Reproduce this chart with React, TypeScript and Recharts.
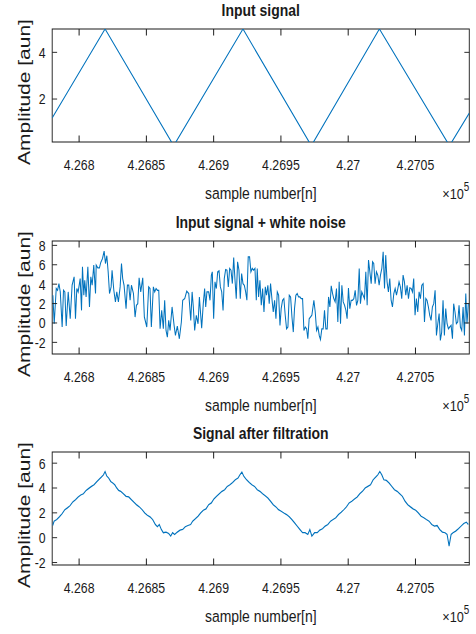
import React from 'react';
import { LineChart, Line, XAxis, YAxis, ReferenceArea } from 'recharts';

// ---------- data ----------
const xTicks = [426800, 426850, 426900, 426950, 427000, 427050];
const xTickLabels = ['4.268', '4.2685', '4.269', '4.2695', '4.27', '4.2705'];
const xDomain: [number, number] = [426780, 427090];

const titles = ['Input signal', 'Input signal + white noise', 'Signal after filtration'];
const yLabelText = 'Amplitude [aun]';
const xLabelText = 'sample number[n]';

const yDomains: [number, number][] = [[0.16, 5], [-3.2, 8.45], [-2.2, 6.9]];
const yTicksList = [[2, 4], [-2, 0, 2, 4, 6, 8], [-2, 0, 2, 4, 6]];

// input triangle signal vertices [sample, amplitude]
const inputSignal: [number, number][] = [
  [426780, 1.19], [426819.3, 5], [426870.3, 0], [426921.8, 5], [426972.6, 0],
  [427023.2, 5], [427075.3, 0], [427090, 1.4],
];

// noisy signal [sample, amplitude]
const noisySeg1: [number, number][] = [
  [426780.5, 2.86], [426781.5, -0.08], [426783, 3.55], [426784, 3.37], [426785, 4.06], [426786, 3.2],
  [426787.4, -0.42], [426788.4, 3.37], [426789.4, 3.2], [426790.4, -0.32], [426791.9, 3.2], [426793.4, 0.44],
  [426794.8, 3.89], [426796.3, 4.75], [426797.3, 0.44], [426798.3, 3.55], [426799.3, 3.2], [426800.8, 4.58],
  [426801.8, 1.3], [426802.5, 5.79], [426803.5, 2.86], [426804.2, 4.41], [426805.2, 2.68], [426806.5, 5.79],
  [426807.7, 1.65], [426808.7, 4.75], [426809.7, 3.89], [426810.9, 5.96], [426812.2, 3.03], [426812.7, 5.96],
  [426813.9, 5.68], [426815.1, 5.68], [426816.1, 6.24], [426817.4, 6.65], [426818.6, 7.41], [426819.6, 6.13],
  [426820.6, 6.93], [426821.6, 5.27], [426822.6, 3.03], [426823.8, 3.72], [426824.5, 5.44], [426825.8, 3.37],
  [426827, 2.17], [426828, 3.2], [426829.2, 2.17], [426830.5, 3.72], [426831.5, 6.13], [426832.4, 4.58],
  [426833.4, 3.89], [426834.9, 1.48], [426835.9, 3.89], [426836.9, 3.89], [426837.9, 2.34], [426838.9, 3.89],
  [426840.4, 3.03], [426841.6, 0.61], [426842.6, 1.82], [426843.6, 1.99], [426844.6, 4.65], [426845.8, 3.2],
  [426847.3, 4.65], [426848.5, 0.61], [426850.3, -0.42], [426851.7, 3.72], [426852.7, 3.55], [426853.7, -0.42],
  [426855.2, 3.72], [426856.2, 3.2], [426857.2, 3.55], [426858.2, 3.37], [426859.2, 3.37], [426860.2, -0.6],
  [426861.4, 1.3], [426862.6, -0.6], [426863.6, 2.34], [426864.6, -0.77], [426865.6, -1.46], [426866.6, 0.27],
  [426867.6, -0.77], [426869.1, 1.65], [426870.6, -0.25], [426871.6, -1.29], [426873.0, -0.32], [426874.5, -1.63],
  [426876, 0.1], [426877, 2.34], [426878.5, 2.51], [426880, 3.27], [426881.5, 3.03], [426883, 0.27], [426884, 3.2],
];
const noisySeg2: [number, number][] = [
  [426884.9, 1.65], [426885.9, -0.77], [426887.1, 0.79], [426888.4, -0.08], [426889.4, 2.68], [426890.3, 0.96],
  [426891.1, -0.53], [426892.3, 1.99], [426893.3, 3.55], [426894.1, 1.65], [426895.0, 3.2], [426896.3, 3.2],
  [426897.3, 2.34], [426898.3, 4.93], [426899.0, 5.27], [426900.0, 0.44], [426901.0, 4.24], [426902.0, 3.55],
  [426903.0, 5.27], [426904.0, 5.37], [426905.0, 3.72], [426906.0, 3.2], [426907.0, 1.3], [426907.9, 4.58],
  [426908.9, 5.51], [426909.9, 5.44], [426910.9, 3.72], [426911.9, 5.62], [426912.9, 5.44], [426913.9, 4.06],
  [426914.9, 6.75], [426915.8, 4.58], [426916.8, 2.51], [426917.8, 6.3], [426918.8, 5.44], [426919.8, 2.51],
  [426920.8, 5.1], [426921.8, 4.06], [426922.8, 3.89], [426923.8, 3.2], [426924.7, 2.34], [426925.7, 6.82],
  [426926.7, 6.82], [426927.7, 5.27], [426928.7, 5.62], [426929.7, 5.44], [426930.7, 5.62], [426931.7, 2.34],
  [426932.4, 5.62], [426933.4, 2.68], [426934.4, 4.41], [426935.4, 1.82], [426936.4, 3.55], [426937.4, 1.13],
  [426938.4, 3.72], [426939.3, 2.86], [426940.3, 3.89], [426941.3, 1.99], [426942.3, 4.06], [426943.3, 2.51],
  [426944.3, 1.13], [426945.3, 2.34], [426946.3, 0.44], [426947.3, 3.2], [426948.3, 2.86], [426949.3, -0.25],
  [426950.2, 1.48], [426951.2, 2.34], [426952.2, 2.51], [426953.2, 0.79], [426954.2, -0.6], [426955.2, -0.42],
  [426956.2, 2.86], [426957.2, 2.68], [426958.2, 0.61], [426959.2, -0.94], [426960.1, 1.48], [426961.1, 2.86],
  [426962.1, 3.03], [426963.1, 2.68], [426964.1, 2.68], [426965.1, 2.51], [426966.1, 2.51], [426967.1, -0.77],
  [426968.1, -0.42], [426969.1, -0.6], [426970.0, -1.63], [426971.0, 0.44], [426972.0, 0.61], [426973.0, 0.79],
  [426974.5, 2.34], [426975.5, 1.13], [426976.5, -0.77], [426977.5, -0.42], [426978.5, -1.29], [426979.4, -1.7],
  [426980.4, -0.6], [426981.4, -0.6], [426982.4, 1.3],
];
const noisySeg3: [number, number][] = [
  [426983.4, -0.6], [426984.4, -0.6], [426985.4, 2.68], [426986.4, 1.65], [426987.4, 3.82], [426988.4, 3.03],
  [426989.3, 2.51], [426990.3, 2.17], [426991.3, 3.55], [426992.3, 0.1], [426993.3, 4.24], [426994.3, -0.08],
  [426995.3, 3.89], [426996.3, 2.17], [426997.3, 1.82], [426998.3, 1.3], [426999.2, 0.44], [427000.2, 3.61],
  [427001.2, 1.48], [427002.2, 2.34], [427003.2, 2.34], [427004.2, 2.51], [427005.2, 3.37], [427006.2, 1.82],
  [427007.2, 2.34], [427008.2, 5.62], [427009.1, 1.99], [427010.1, 3.2], [427011.1, 2.86], [427012.1, 2.51],
  [427013.1, 5.27], [427014.1, 1.82], [427015.1, 6.48], [427016.1, 5.27], [427017.1, 4.06], [427018.1, 6.3],
  [427019.0, 6.13], [427020.0, 4.06], [427021.0, 5.27], [427022.0, 4.93], [427023.0, 3.89], [427024.0, 4.93],
  [427025.0, 5.62], [427026.0, 7.34], [427027.0, 3.55], [427027.9, 6.99], [427028.9, 4.24], [427029.9, 3.2],
  [427030.9, 4.58], [427031.9, 2.34], [427032.9, 1.65], [427033.9, 3.03], [427034.9, 3.55], [427035.9, 2.86],
  [427036.9, 3.55], [427037.8, 4.24], [427038.8, 3.72], [427039.8, 2.51], [427040.8, 4.93], [427041.8, 4.24],
  [427042.8, 2.86], [427043.8, 3.89], [427044.8, 2.51], [427045.8, 3.61], [427046.8, 3.55], [427047.8, 3.2],
  [427048.7, 4.58], [427049.7, 0.79], [427050.7, 2.51], [427051.7, 1.13], [427052.7, 3.2], [427053.7, 2.51],
  [427054.7, 3.89], [427055.7, 4.06], [427056.7, 0.1], [427057.7, 2.51], [427058.6, 2.34], [427059.6, 1.65],
  [427060.6, 0.79], [427061.6, 0.27], [427062.6, 1.65], [427063.6, 1.99], [427064.6, 3.37], [427065.6, -1.29],
  [427066.6, -0.08], [427067.6, 0.96], [427068.5, -1.8], [427069.5, -0.94], [427070.5, 2.34], [427071.5, -1.29],
  [427072.5, 1.48], [427073.5, -0.08], [427074.5, -0.6], [427075.5, -0.42], [427076.5, -0.25], [427077.5, -1.63],
  [427078.4, 1.99], [427079.4, 1.13], [427080.4, -0.08], [427081.4, 0.1], [427082.4, 1.82], [427083.4, -0.42],
  [427084.4, -0.77], [427085.4, 1.65], [427086.4, -1.29], [427087.4, 3.03], [427088.3, -0.08], [427089.3, 1.99],
];

// filtered signal [sample, amplitude]
const filteredSignal: [number, number][] = [
  [426780.4, 0.98], [426781.4, 1.33], [426783.4, 1.46], [426785.4, 1.68], [426787.4, 1.94], [426789.4, 2.26],
  [426791.3, 2.4], [426793.3, 2.58], [426795.3, 2.88], [426797.3, 3.06], [426799.3, 3.28], [426801.2, 3.44],
  [426803.2, 3.54], [426805.2, 3.81], [426807.2, 3.97], [426809.2, 4.13], [426811.1, 4.26], [426813.1, 4.5],
  [426815.1, 4.72], [426816.6, 4.88], [426818.1, 5.06], [426819.3, 5.33], [426820.5, 4.98], [426822.0, 4.8],
  [426823.5, 4.53], [426825.0, 4.4], [426826.5, 4.26], [426828.0, 4.0], [426829.4, 3.81], [426830.9, 3.73],
  [426832.9, 3.54], [426834.9, 3.33], [426836.9, 3.28], [426838.9, 3.06], [426840.8, 2.85], [426842.8, 2.64],
  [426844.8, 2.48], [426846.8, 2.26], [426848.8, 1.99], [426850.7, 1.81], [426852.7, 1.68], [426854.7, 1.46],
  [426856.7, 1.06], [426858.2, 0.88], [426859.6, 1.06], [426861.1, 0.66], [426862.6, 0.4], [426864.6, 0.45],
  [426866.6, 0.34], [426868.1, 0.13], [426869.5, 0.4], [426871.0, 0.26], [426873.0, 0.45], [426875.0, 0.61],
  [426877.0, 0.66], [426878.9, 0.88], [426880.9, 0.98], [426882.9, 1.06], [426884.4, 1.33], [426886.4, 1.52],
  [426888.4, 1.73], [426890.3, 1.99], [426892.3, 2.21], [426894.3, 2.32], [426896.3, 2.66], [426898.3, 2.8],
  [426900.2, 3.12], [426902.2, 3.33], [426904.2, 3.54], [426906.2, 3.73], [426908.2, 3.86], [426910.1, 4.13],
  [426912.1, 4.26], [426914.1, 4.45], [426916.1, 4.66], [426918.1, 4.8], [426919.5, 5.06], [426921.0, 5.28],
  [426922.5, 4.93], [426924.5, 4.66], [426926.5, 4.45], [426928.4, 4.26], [426930.4, 4.13], [426932.4, 3.86],
  [426934.4, 3.73], [426936.4, 3.54], [426938.3, 3.38], [426940.3, 3.2], [426942.3, 2.93], [426944.3, 2.66],
  [426946.3, 2.48], [426948.2, 2.26], [426950.2, 2.13], [426952.2, 1.99], [426954.2, 1.86], [426956.2, 1.68],
  [426958.1, 1.46], [426960.1, 1.2], [426962.1, 0.93], [426964.1, 0.66], [426966.1, 0.4], [426968.0, 0.4],
  [426970.0, 0.26], [426971.5, 0.66], [426973.0, 0.13], [426975.0, 0.4], [426977.0, 0.4], [426978.9, 0.61],
  [426980.9, 0.72], [426982.9, 0.93], [426984.9, 1.06], [426986.9, 1.33], [426988.8, 1.46], [426990.8, 1.6],
  [426992.8, 1.86], [426994.8, 2.05], [426996.8, 2.26], [426998.7, 2.48], [427000.7, 2.8], [427002.7, 2.93],
  [427004.7, 3.12], [427006.7, 3.28], [427008.6, 3.54], [427010.6, 3.73], [427012.6, 4.0], [427014.6, 4.13],
  [427016.6, 4.26], [427018.5, 4.66], [427020.5, 4.88], [427022.0, 5.06], [427023.5, 5.33], [427025.0, 5.06],
  [427026.5, 4.66], [427028.4, 4.61], [427030.4, 4.4], [427032.4, 4.13], [427034.4, 3.86], [427036.4, 3.73],
  [427038.3, 3.54], [427040.3, 3.33], [427042.3, 2.93], [427044.3, 2.66], [427046.3, 2.48], [427048.2, 2.32],
  [427050.2, 2.21], [427052.2, 1.99], [427054.2, 1.73], [427056.2, 1.6], [427058.1, 1.46], [427060.1, 1.33],
  [427062.1, 1.06], [427064.1, 0.93], [427066.1, 0.98], [427068.0, 0.66], [427070.0, 0.45], [427072.0, 0.4],
  [427073.5, 0.26], [427075.0, -0.67], [427076.5, 0.26], [427077.9, 0.4], [427079.9, 0.53], [427081.9, 0.72],
  [427083.9, 0.93], [427085.9, 1.14], [427087.8, 1.25], [427089.3, 1.06],
];

// ---------- layout / style ----------
const FONT = '"Liberation Sans", Arial, Helvetica, sans-serif';
const SCALE_X = 0.8207;
const W = 580;
const CH = 211;
const TOP = 29;
const PLOT_H = 113;
const Y_AXIS_W = 63.6;
const RIGHT = 8.2;
const PLOT_W = W - Y_AXIS_W - RIGHT;
const LINE_COLOR = '#0072BD';
const INK = '#1a1a1a';
const PANEL_TOPS = [0, 211.7, 423.3];

const toRows = (pts: [number, number][]) => pts.map(([x, y]) => ({ x, y }));
const datasets = [
  toRows(inputSignal),
  toRows([...noisySeg1, ...noisySeg2, ...noisySeg3]),
  toRows(filteredSignal),
];

function XTick(props: any) {
  const { x, y, payload } = props;
  const i = xTicks.indexOf(payload.value);
  return (
    <g>
      <line x1={x} x2={x} y1={y} y2={y - 6.5} stroke={INK} strokeWidth={1.2} />
      <line x1={x} x2={x} y1={y - PLOT_H} y2={y - PLOT_H + 6.5} stroke={INK} strokeWidth={1.2} />
      <text x={x} y={y + 28} textAnchor="middle" fontSize={15} fontFamily={FONT} fill={INK}>
        {xTickLabels[i]}
      </text>
    </g>
  );
}

function YTick(props: any) {
  const { x, y, payload } = props;
  return (
    <g>
      <line x1={x} x2={x + 6} y1={y} y2={y} stroke={INK} strokeWidth={1} />
      <line x1={x + PLOT_W} x2={x + PLOT_W - 6} y1={y} y2={y} stroke={INK} strokeWidth={1} />
      <text x={x - 8} y={y} dy="0.36em" textAnchor="end" fontSize={15} fontFamily={FONT} fill={INK}>
        {String(payload.value)}
      </text>
    </g>
  );
}

function XLabel(props: any) {
  const vb = props.viewBox || {};
  const bx = vb.x ?? Y_AXIS_W;
  const by = vb.y ?? TOP + PLOT_H;
  const bw = vb.width ?? PLOT_W;
  return (
    <g>
      <text x={bx + bw / 2} y={by + 57.5} textAnchor="middle" fontSize={17} fontFamily={FONT} fill={INK}>
        {xLabelText}
      </text>
      <text x={bx + bw} y={by + 57} textAnchor="end" fontSize={15.5} fontFamily={FONT} fill={INK}>
        <tspan>×10</tspan>
        <tspan dy={-7.5} fontSize={12}>5</tspan>
      </text>
    </g>
  );
}

function YLabel(props: any) {
  const vb = props.viewBox || {};
  const by = vb.y ?? TOP;
  const bh = vb.height ?? PLOT_H;
  const cx = 36.6;
  const cy = by + bh / 2 + 6.5;
  return (
    <text x={cx} y={cy} transform={`rotate(-90, ${cx}, ${cy})`} textAnchor="middle" fontSize={21} fontFamily={FONT} fill={INK}>
      {yLabelText}
    </text>
  );
}

function TitleLabel(props: any) {
  const vb = props.viewBox || {};
  const bx = vb.x ?? Y_AXIS_W;
  const by = vb.y ?? TOP;
  const bw = vb.width ?? PLOT_W;
  return (
    <text x={bx + bw / 2} y={by - 12.5} textAnchor="middle" fontSize={17} fontWeight="bold" fontFamily={FONT} fill={INK}>
      {props.text}
    </text>
  );
}

function Panel({ idx }: { idx: number }) {
  const yDomain = yDomains[idx];
  return (
    <div style={{ position: 'absolute', left: 0, top: PANEL_TOPS[idx], width: W, height: CH }}>
      <LineChart width={W} height={CH} data={datasets[idx]} margin={{ top: TOP, right: RIGHT, bottom: 0, left: 0 }}>
        <XAxis
          type="number"
          dataKey="x"
          domain={xDomain}
          ticks={xTicks}
          allowDataOverflow
          interval={0}
          tickSize={0}
          tickMargin={0}
          tickLine={false}
          axisLine={false}
          height={CH - TOP - PLOT_H}
          tick={<XTick />}
          label={<XLabel />}
        />
        <YAxis
          type="number"
          domain={yDomain}
          ticks={yTicksList[idx]}
          allowDataOverflow
          interval={0}
          width={Y_AXIS_W}
          tickSize={0}
          tickMargin={0}
          tickLine={false}
          axisLine={false}
          tick={<YTick />}
          label={<YLabel />}
        />
        <ReferenceArea
          x1={xDomain[0]}
          x2={xDomain[1]}
          y1={yDomain[0]}
          y2={yDomain[1]}
          fill="none"
          fillOpacity={0}
          stroke={INK}
          strokeWidth={1.1}
          label={<TitleLabel text={titles[idx]} />}
        />
        <Line
          type="linear"
          dataKey="y"
          stroke={LINE_COLOR}
          strokeWidth={1.25}
          dot={false}
          activeDot={false}
          isAnimationActive={false}
        />
      </LineChart>
    </div>
  );
}

export default function App() {
  return (
    <div
      style={{
        position: 'absolute',
        left: 0,
        top: 0,
        width: W,
        height: 634,
        transform: `scaleX(${SCALE_X})`,
        transformOrigin: '0 0',
        background: '#fff',
        overflow: 'visible',
      }}
    >
      <Panel idx={0} />
      <Panel idx={1} />
      <Panel idx={2} />
    </div>
  );
}
